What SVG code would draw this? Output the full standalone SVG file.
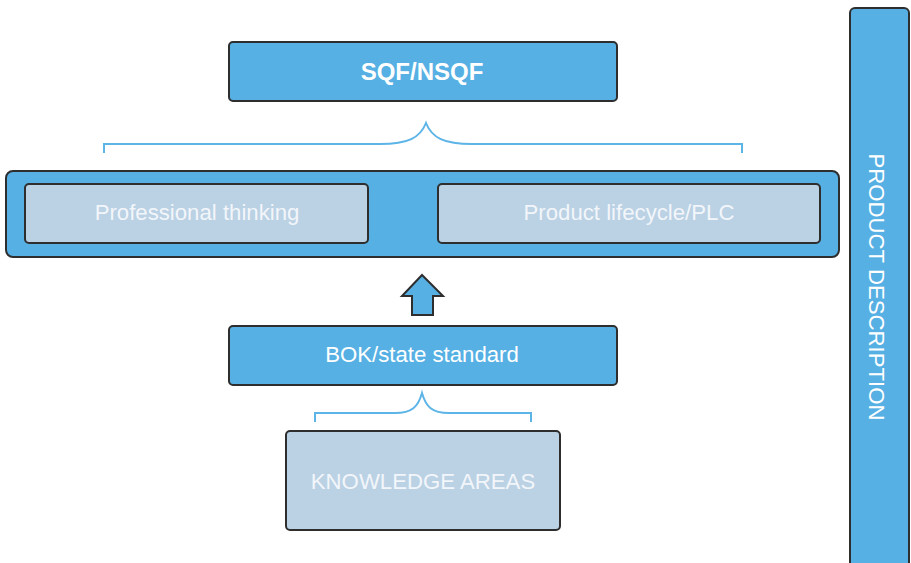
<svg xmlns="http://www.w3.org/2000/svg" width="911" height="563" viewBox="0 0 911 563">
<style>
.blue{fill:#56b0e3;stroke:#2e2e2e;stroke-width:2}
.light{fill:#bbd1e4;stroke:#2e2e2e;stroke-width:2}
.brace{fill:none;stroke:#5db4e6;stroke-width:2}
text{font-family:"Liberation Sans",Arial,sans-serif;fill:#ffffff;text-anchor:middle}
.t{font-size:22.2px}
.lt{font-size:22.2px;fill:#f2f6fa}
</style>
<rect width="911" height="563" fill="#ffffff"/>
<g id="product-description">
<rect class="blue" x="850" y="8" width="59" height="565" rx="5"/>
<text class="t" transform="translate(869 287) rotate(90)">PRODUCT DESCRIPTION</text>
</g>
<g id="sqf">
<rect class="blue" x="229" y="42" width="388" height="59" rx="4"/>
<text x="422" y="80" font-size="24" font-weight="bold">SQF/NSQF</text>
</g>
<g id="outer">
<rect class="blue" x="6" y="171" width="833" height="86" rx="7"/>
</g>
<g id="professional-thinking">
<rect class="light" x="25" y="184" width="343" height="59" rx="4"/>
<text class="lt" x="197" y="220">Professional thinking</text>
</g>
<g id="plc">
<rect class="light" x="438" y="184" width="382" height="59" rx="4"/>
<text class="lt" x="629" y="220">Product lifecycle/PLC</text>
</g>
<g id="bok">
<rect class="blue" x="229" y="326" width="388" height="59" rx="4"/>
<text class="t" x="422" y="362">BOK/state standard</text>
</g>
<g id="knowledge-areas">
<rect class="light" x="286" y="431" width="274" height="99" rx="4"/>
<text class="lt" x="423" y="489">KNOWLEDGE AREAS</text>
</g>
<g id="connectors">
<path class="brace" d="M104 153 V144 H380 C408 144 420 138 426 123 C432 138 444 144 472 144 H742 V153"/>
<path class="brace" d="M315 422 V413 H395 C412 413 418 407 422 393 C426 407 432 413 449 413 H531 V422"/>
<path d="M412 315 V296 H402 L422 275 L443 296 H433 V315 Z" fill="#56b0e3" stroke="#2e2e2e" stroke-width="2" stroke-linejoin="miter"/>
</g>
</svg>
